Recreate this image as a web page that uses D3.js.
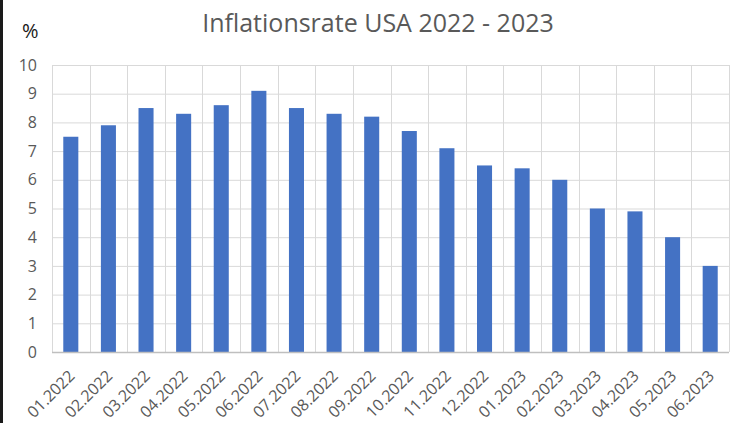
<!DOCTYPE html>
<html>
<head>
<meta charset="utf-8">
<script src="https://cdn.jsdelivr.net/npm/d3@7"></script>
<style>
  body { margin: 0; background: #fff; }
  svg { display: block; }
</style>
</head>
<body>
<div id="chart"></div>
<script>
// Inflationsrate USA, monthly values in percent
var months = ["01.2022", "02.2022", "03.2022", "04.2022", "05.2022", "06.2022",
              "07.2022", "08.2022", "09.2022", "10.2022", "11.2022", "12.2022",
              "01.2023", "02.2023", "03.2023", "04.2023", "05.2023", "06.2023"]
var rates = [7.5, 7.9, 8.5, 8.3, 8.6, 9.1, 8.5, 8.3, 8.2, 7.7, 7.1, 6.5,
             6.4, 6.0, 5.0, 4.9, 4.0, 3.0]
var yTicks = [0, 1, 2, 3, 4, 5, 6, 7, 8, 9, 10]

var width = 733
var height = 423
var margin = {top: 65, right: 4, bottom: 71, left: 52}

var svg = d3.select("#chart").append("svg")
            .attr("width", width)
            .attr("height", height)

svg.append("rect")
   .attr("width", width)
   .attr("height", height)
   .attr("fill", "#ffffff")

// dark strip on the left edge of the screenshot
svg.append("rect")
   .attr("x", 0).attr("y", 0)
   .attr("width", 3).attr("height", height)
   .attr("fill", "#1a1a1a")

var x = d3.scaleBand()
          .domain(months)
          .range([margin.left, width - margin.right])
          .paddingInner(0.6)
          .paddingOuter(0.3)

var xGrid = d3.scaleBand()
              .domain(months)
              .range([margin.left, width - margin.right])

var y = d3.scaleLinear()
          .domain([0, 10])
          .range([height - margin.bottom, margin.top])

// horizontal gridlines
svg.append("g")
   .selectAll("line")
   .data(yTicks)
   .join("line")
   .attr("x1", margin.left)
   .attr("x2", width - margin.right)
   .attr("y1", d => y(d) + 0.5)
   .attr("y2", d => y(d) + 0.5)
   .attr("stroke", "#d9d9d9")
   .attr("stroke-width", 1)

// vertical gridlines on category boundaries
svg.append("g")
   .selectAll("line")
   .data(months.concat(["end"]))
   .join("line")
   .attr("x1", (d, i) => Math.round(xGrid(months[0]) + i * xGrid.step()) + 0.5)
   .attr("x2", (d, i) => Math.round(xGrid(months[0]) + i * xGrid.step()) + 0.5)
   .attr("y1", margin.top)
   .attr("y2", height - margin.bottom)
   .attr("stroke", "#d9d9d9")
   .attr("stroke-width", 1)

// bars
svg.append("g")
   .selectAll("rect")
   .data(rates)
   .join("rect")
   .attr("x", (d, i) => x(months[i]))
   .attr("y", d => y(d))
   .attr("width", x.bandwidth())
   .attr("height", d => y(0) - y(d))
   .attr("fill", "#4472c4")

// bottom axis line
svg.append("line")
   .attr("x1", margin.left)
   .attr("x2", width - margin.right)
   .attr("y1", y(0) + 0.5)
   .attr("y2", y(0) + 0.5)
   .attr("stroke", "#bfbfbf")
   .attr("stroke-width", 1.5)

// y axis labels
var yAxis = svg.append("g")
               .attr("transform", "translate(" + (margin.left - 15) + ",0)")
               .call(d3.axisLeft(y).tickValues(yTicks).tickSize(0).tickPadding(0))
yAxis.select(".domain").remove()
yAxis.selectAll("text")
     .attr("font-family", "Open Sans")
     .attr("font-size", "16px")
     .attr("fill", "#595959")

// x axis labels, rotated
var xAxis = svg.append("g")
               .attr("transform", "translate(0," + (y(0) + 6) + ")")
               .call(d3.axisBottom(xGrid).tickSize(0).tickPadding(0))
xAxis.select(".domain").remove()
xAxis.selectAll("text")
     .attr("font-family", "Open Sans")
     .attr("font-size", "16px")
     .attr("fill", "#595959")
     .attr("text-anchor", "end")
     .attr("dy", "0.35em")
     .attr("transform", "translate(1,15) rotate(-45)")

// title
svg.append("text")
   .attr("x", 378)
   .attr("y", 32)
   .attr("text-anchor", "middle")
   .text("Inflationsrate USA 2022 - 2023")
   .attr("font-family", "Open Sans")
   .attr("font-size", "25px")
   .attr("fill", "#595959")

svg.append("text")
   .attr("x", 22)
   .attr("y", 38)
   .text("%")
   .attr("font-family", "Open Sans")
   .attr("font-size", "20px")
   .attr("fill", "#1a1a1a")
</script>
</body>
</html>
